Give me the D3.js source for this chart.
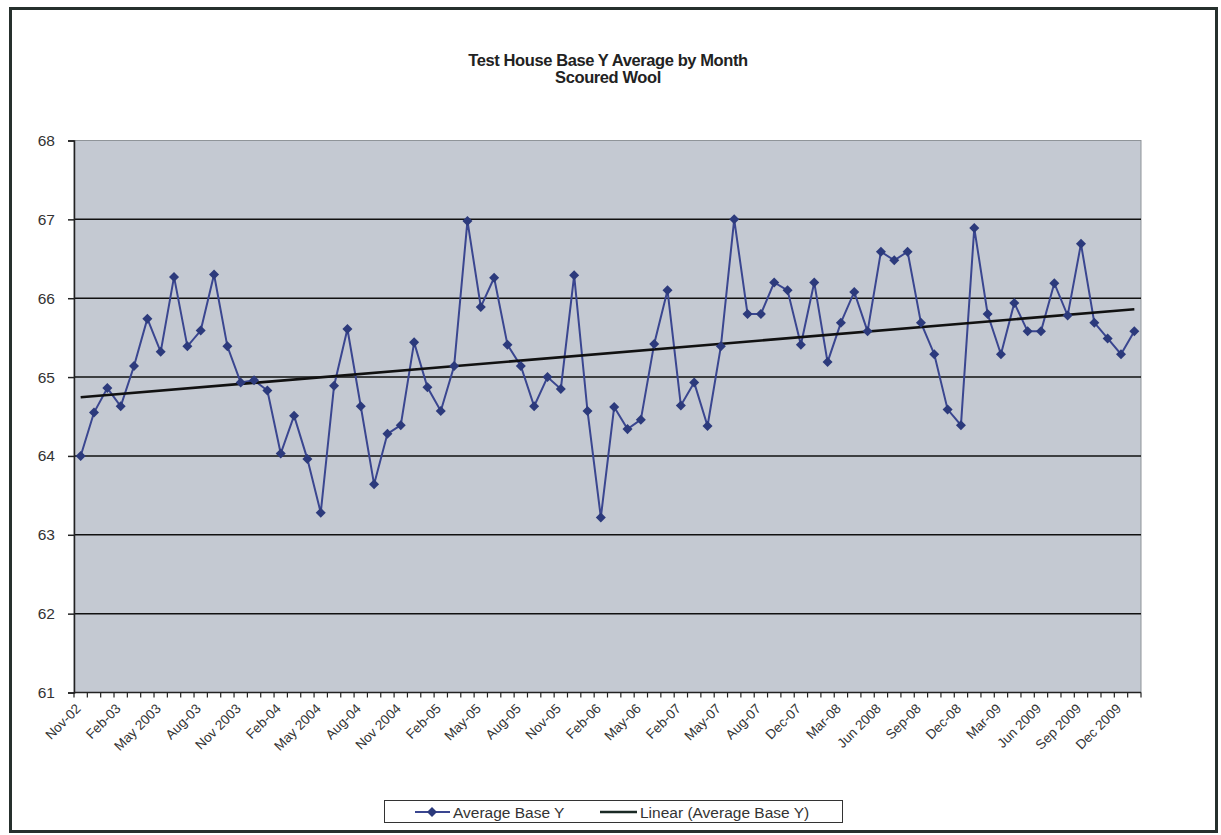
<!DOCTYPE html>
<html>
<head>
<meta charset="utf-8">
<script src="https://cdn.jsdelivr.net/npm/d3@7"></script>
<style>
  html, body { margin: 0; padding: 0; background: #ffffff; }
  svg { display: block; }
  text { font-family: "Liberation Sans", Arial, sans-serif; }
</style>
</head>
<body>
<script>
// Month categories (80 readings, Nov 2002 – Jan 2010; some months missing in the record)
const categories = [
  "Nov-02","Dec-02","Jan-03","Feb-03","Mar-03","Apr-03","May 2003","Jun-03","Jul-03","Aug-03",
  "Sep-03","Oct-03","Nov 2003","Dec-03","Jan-04","Feb-04","Mar-04","Apr-04","May 2004","Jun-04",
  "Jul-04","Aug-04","Sep-04","Oct-04","Nov 2004","Dec-04","Jan-05","Feb-05","Mar-05","Apr-05",
  "May-05","Jun-05","Jul-05","Aug-05","Sep-05","Oct-05","Nov-05","Dec-05","Jan-06","Feb-06",
  "Mar-06","Apr-06","May-06","Jun-06","Jan-07","Feb-07","Mar-07","Apr-07","May-07","Jun-07",
  "Jul-07","Aug-07","Sep-07","Nov-07","Dec-07","Jan-08","Feb-08","Mar-08","Apr-08","May-08",
  "Jun 2008","Jul-08","Aug-08","Sep-08","Oct-08","Nov-08","Dec-08","Jan-09","Feb-09","Mar-09",
  "Apr-09","May-09","Jun 2009","Jul 2009","Aug 2009","Sep 2009","Oct 2009","Nov 2009","Dec 2009","Jan 2010"
];

// Monthly average Base Y
const averageBaseY = [
  64.00, 64.55, 64.86, 64.63, 65.14, 65.74, 65.32, 66.27, 65.39, 65.59,
  66.30, 65.39, 64.93, 64.96, 64.83, 64.03, 64.51, 63.96, 63.28, 64.89,
  65.61, 64.63, 63.64, 64.28, 64.39, 65.44, 64.87, 64.57, 65.14, 66.98,
  65.89, 66.26, 65.41, 65.14, 64.63, 65.00, 64.85, 66.29, 64.57, 63.22,
  64.62, 64.34, 64.46, 65.42, 66.10, 64.64, 64.93, 64.38, 65.39, 67.00,
  65.80, 65.80, 66.20, 66.10, 65.41, 66.20, 65.19, 65.69, 66.08, 65.58,
  66.59, 66.48, 66.59, 65.69, 65.29, 64.59, 64.39, 66.89, 65.80, 65.29,
  65.94, 65.58, 65.58, 66.19, 65.78, 66.69, 65.69, 65.49, 65.29, 65.58
];

const yTicks = [61, 62, 63, 64, 65, 66, 67, 68];
const titleLines = ["Test House Base Y Average by Month", "Scoured Wool"];
const seriesName = "Average Base Y";
const trendName = "Linear (Average Base Y)";

const W = 1221, H = 835;
const plot = { left: 74, right: 1141, top: 140.5, bottom: 692.5 };

const svg = d3.select("body").append("svg").attr("width", W).attr("height", H);

// outer chart frame
svg.append("rect")
  .attr("x", 10.5).attr("y", 8.5).attr("width", 1206).attr("height", 823)
  .attr("fill", "#ffffff").attr("stroke", "#26302d").attr("stroke-width", 3);

const x = d3.scaleBand().domain(categories).range([plot.left, plot.right]);
const y = d3.scaleLinear().domain([61, 68]).range([plot.bottom, plot.top]);
const cx = d => x(d) + x.bandwidth() / 2;

// plot background
svg.append("rect")
  .attr("x", plot.left).attr("y", plot.top)
  .attr("width", plot.right - plot.left).attr("height", plot.bottom - plot.top)
  .attr("fill", "#c4c9d2").attr("stroke", "#8f9499").attr("stroke-width", 1);

// horizontal gridlines
svg.append("g").selectAll("line")
  .data(yTicks.filter(t => t > 61 && t < 68))
  .join("line")
  .attr("x1", plot.left).attr("x2", plot.right)
  .attr("y1", d => y(d)).attr("y2", d => y(d))
  .attr("stroke", "#111111").attr("stroke-width", 1.5);

// y axis
const yAxis = svg.append("g")
  .attr("transform", `translate(${plot.left},0)`)
  .call(d3.axisLeft(y).tickValues(yTicks).tickSize(6).tickPadding(13).tickFormat(d3.format("d")));
yAxis.select(".domain").attr("stroke", "#222").attr("stroke-width", 1.5);
yAxis.selectAll(".tick line").attr("stroke", "#222").attr("stroke-width", 1.5);
yAxis.selectAll("text").attr("font-size", 15.5).attr("fill", "#333");

// x axis: a tick at every category boundary, labels on every third category
const xAxisG = svg.append("g").attr("transform", `translate(0,${plot.bottom})`);
xAxisG.append("line")
  .attr("x1", plot.left).attr("x2", plot.right)
  .attr("stroke", "#222").attr("stroke-width", 1.5);
const boundaries = categories.map(c => x(c)).concat([x(categories[categories.length - 1]) + x.bandwidth()]);
xAxisG.selectAll("line.tk")
  .data(boundaries)
  .join("line").attr("class", "tk")
  .attr("x1", d => d).attr("x2", d => d)
  .attr("y1", 0).attr("y2", 5)
  .attr("stroke", "#222").attr("stroke-width", 1.2);
xAxisG.selectAll("text")
  .data(categories.filter((c, i) => i % 3 === 0))
  .join("text")
  .attr("transform", d => `translate(${cx(d) + 1},${17}) rotate(-45)`)
  .attr("text-anchor", "end")
  .attr("font-size", 13.5)
  .attr("fill", "#333")
  .text(d => d);

// least-squares linear trend
const n = averageBaseY.length;
const idx = d3.range(n);
const mx = d3.mean(idx), my = d3.mean(averageBaseY);
const slope = d3.sum(idx, i => (i - mx) * (averageBaseY[i] - my)) / d3.sum(idx, i => (i - mx) ** 2);
const intercept = my - slope * mx;

// data series
const line = d3.line().x((d, i) => cx(categories[i])).y(d => y(d));
svg.append("path")
  .datum(averageBaseY)
  .attr("d", line)
  .attr("fill", "none").attr("stroke", "#3a4690").attr("stroke-width", 2);

svg.append("line")
  .attr("x1", cx(categories[0])).attr("y1", y(intercept))
  .attr("x2", cx(categories[n - 1])).attr("y2", y(intercept + slope * (n - 1)))
  .attr("stroke", "#111").attr("stroke-width", 2.6);

const diamond = d3.symbol().type(d3.symbolDiamond2).size(64);
svg.append("g").selectAll("path")
  .data(averageBaseY)
  .join("path")
  .attr("transform", (d, i) => `translate(${cx(categories[i])},${y(d)})`)
  .attr("d", diamond)
  .attr("fill", "#2c3a7c");

// title
svg.append("g").selectAll("text")
  .data(titleLines)
  .join("text")
  .attr("x", 608).attr("y", (d, i) => 66 + i * 17)
  .attr("text-anchor", "middle")
  .attr("font-size", 16.5).attr("font-weight", "bold")
  .attr("fill", "#222")
  .attr("letter-spacing", -0.4)
  .text(d => d);

// legend
const lg = svg.append("g");
lg.append("rect")
  .attr("x", 384.5).attr("y", 800.5).attr("width", 458).attr("height", 22)
  .attr("fill", "#fff").attr("stroke", "#333").attr("stroke-width", 1);
lg.append("line").attr("x1", 415).attr("x2", 450).attr("y1", 812).attr("y2", 812)
  .attr("stroke", "#3a4690").attr("stroke-width", 2);
lg.append("path").attr("transform", "translate(432,812)").attr("d", diamond).attr("fill", "#2c3a7c");
lg.append("text").attr("x", 453).attr("y", 817.5).attr("font-size", 15.5).attr("fill", "#333").text(seriesName);
lg.append("line").attr("x1", 600).attr("x2", 637).attr("y1", 812).attr("y2", 812)
  .attr("stroke", "#1a2a25").attr("stroke-width", 2.4);
lg.append("text").attr("x", 640).attr("y", 817.5).attr("font-size", 15.5).attr("fill", "#333").text(trendName);
</script>
</body>
</html>
